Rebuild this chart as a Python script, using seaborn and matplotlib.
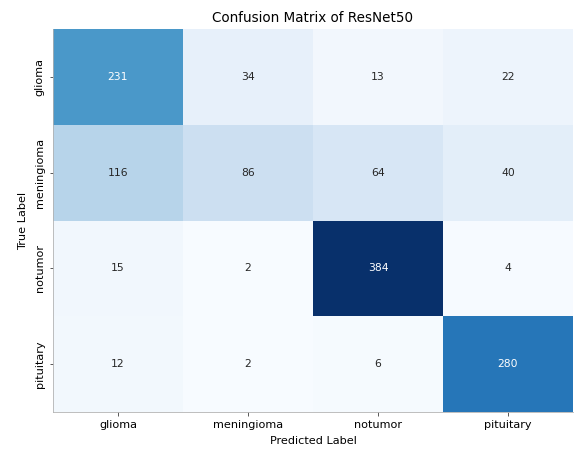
import numpy as np
import matplotlib
matplotlib.use("Agg")
import matplotlib.pyplot as plt
import seaborn as sns

classes = ["glioma", "meningioma", "notumor", "pituitary"]
row_glioma = [231, 34, 13, 22]
row_meningioma = [116, 86, 64, 40]
row_notumor = [15, 2, 384, 4]
row_pituitary = [12, 2, 6, 280]

cm = np.array([row_glioma, row_meningioma, row_notumor, row_pituitary])

plt.rcParams['font.family'] = ['DejaVu Sans']
fig = plt.figure(figsize=(574/72, 450/72), dpi=72)
ax = fig.add_axes([53/574, 1-412/450, 520/574, 383/450])
sns.heatmap(cm, annot=True, fmt="d", cmap="Blues", cbar=False,
            xticklabels=classes, yticklabels=classes, ax=ax,
            annot_kws={"fontsize": 10.8})
ax.set_title("Confusion Matrix of ResNet50", fontsize=13.5, pad=7)
ax.set_xlabel("Predicted Label", fontsize=11.2, labelpad=5)
ax.set_ylabel("True Label", fontsize=11.2, labelpad=6)
ax.tick_params(labelsize=11.2, length=3.5, pad=5, color='#333333')
for s in ["left", "bottom"]:
    ax.spines[s].set_visible(True)
    ax.spines[s].set_color('#b0b0b0')
    ax.spines[s].set_linewidth(0.8)
fig.savefig("out.png", dpi=72)
